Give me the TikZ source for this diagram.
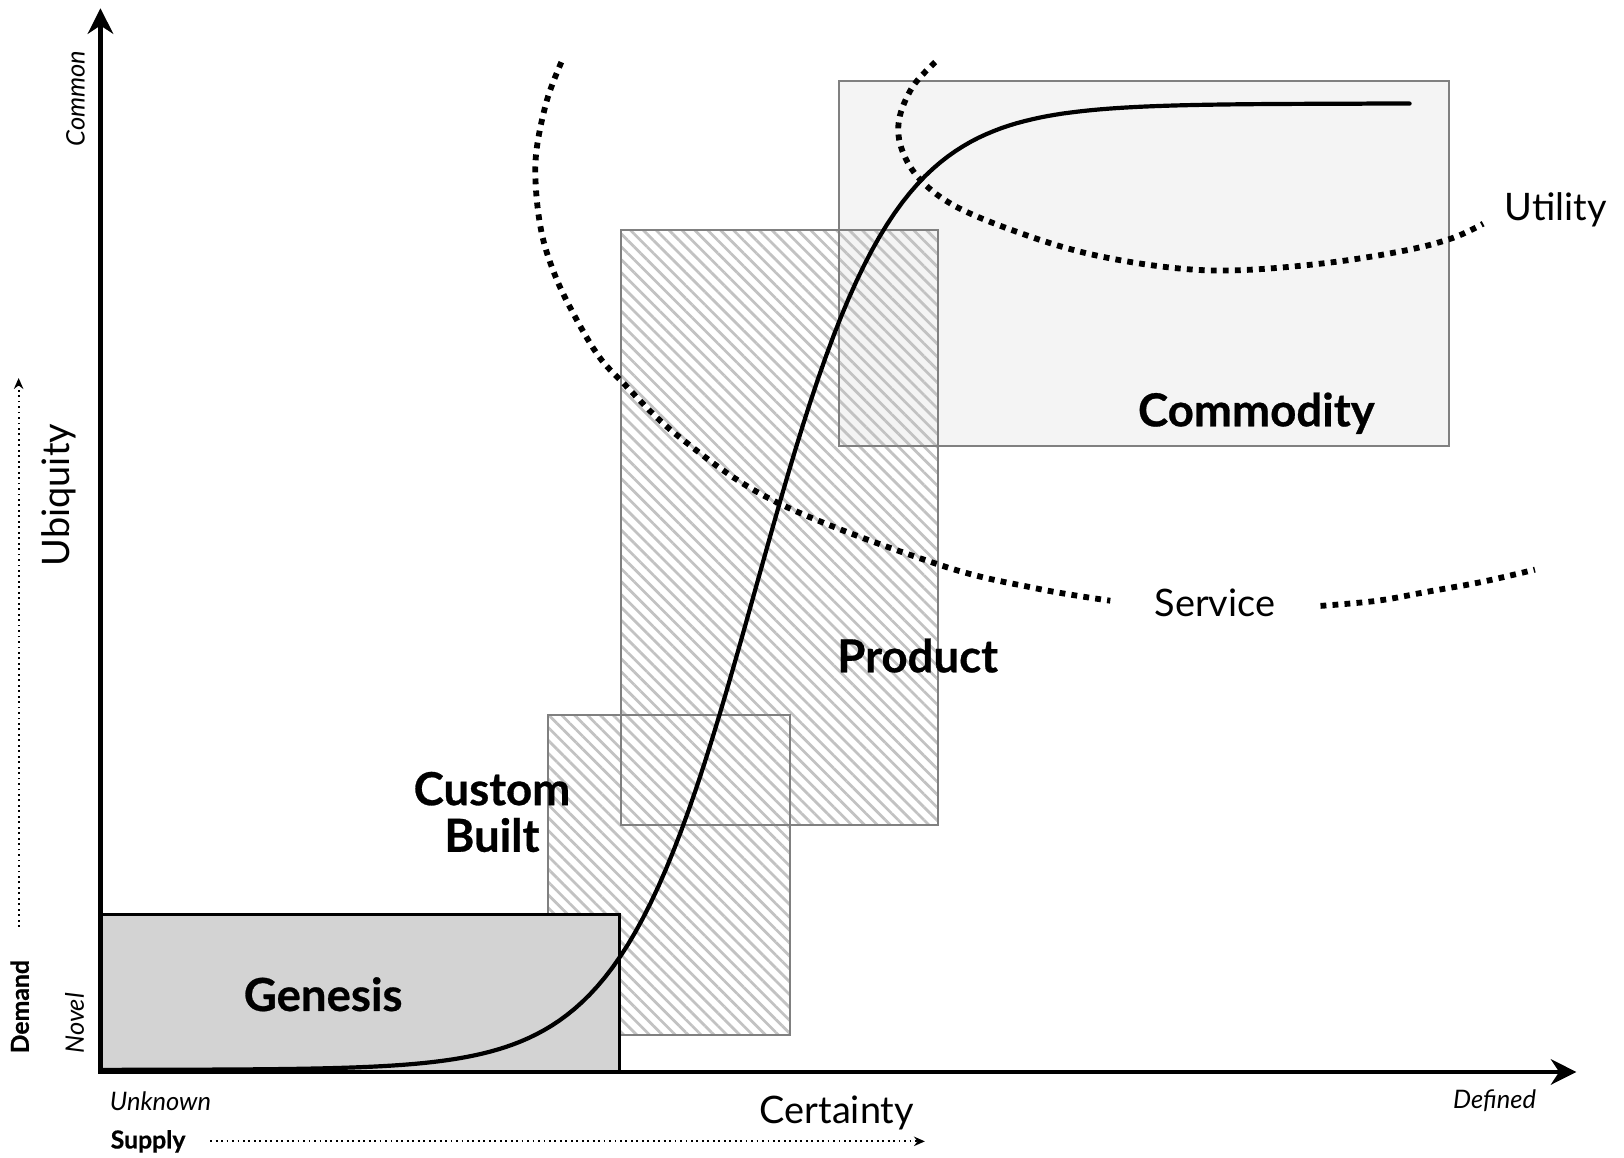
\documentclass[tikz,border=0pt]{standalone}
\usepackage{fontspec}
\setmainfont{Lato}
\newfontfamily\stagefont{Lato}[BoldFeatures={FakeBold=0.6}]
\usepackage[dvipsnames]{xcolor}
\definecolor{m_genesis}{HTML}{D3D3D3}
\definecolor{m_commodity}{HTML}{F4F4F4}
\definecolor{m_edge}{HTML}{808080}
\definecolor{m_hatch}{HTML}{C2C2C2}
\usepackage{tikz}
\usetikzlibrary{positioning,arrows.meta,patterns.meta}

\begin{document}
\begin{tikzpicture}[
        x=0.01cm, y=-0.01cm,
        stage/.style={font=\fontsize{12.5}{12.8}\selectfont\stagefont\bfseries, align=center},
        form/.style={font=\fontsize{10.4}{12}\selectfont},
        end label/.style={font=\fontsize{7}{8}\selectfont\itshape},
        side label/.style={font=\fontsize{6.8}{8}\selectfont\stagefont\bfseries},
        hatched/.style={pattern={Lines[angle=-45,distance=2.5pt,line width=0.75pt]}, pattern color=m_hatch},
        edge/.style={draw=m_edge, line width=0.55pt},
        boundary/.style={line width=1.6pt, dash pattern=on 1.6pt off 1.7pt},
        hint/.style={line width=0.5pt, densely dotted, -{Stealth[length=3pt,width=2.6pt]}},
        axis/.style={line width=1.15pt, {Stealth[length=7pt,width=7pt]}-{Stealth[length=7pt,width=7pt]}}
    ]
    \useasboundingbox (0,0) rectangle (1568,1118);

    % stages
    \fill[m_commodity] (810,78) rectangle (1399,431);
    \path[hatched] (600,222) rectangle (906,797) (529,690) rectangle (763,999);
    \draw[edge] (810,78) rectangle (1399,431);
    \draw[edge] (600,222) rectangle (906,797);
    \draw[edge] (529,690) rectangle (763,999);
    \draw[fill=m_genesis, line width=0.8pt] (97,883) rectangle (598,1035);

    % service and utility boundaries
    \draw[boundary] plot[smooth, tension=0.6] coordinates {(542,60) (528,97) (518,145) (517.5,183) (523,225) (534,261) (550,296) (576,341) (600,368) (656,422) (750,485) (906,545) (1000,568) (1072,580)};
    \draw[boundary] plot[smooth, tension=0.6] coordinates {(1275,585) (1330,580) (1380,571) (1430,562) (1482,550)};
    \draw[boundary] plot[smooth, tension=0.6] coordinates {(903,60) (881,84) (868,116) (871,145) (889,174) (924,200) (985,225) (1051,245) (1127,258) (1193,261) (1280,254) (1356,242) (1402,230) (1432,216)};

    % evolution curve
    \draw[line width=1.15pt, line cap=round] (97,1033) -- plot[domain=150:1320, samples=160] (\x, {1033 - 933/(1 + exp(-(\x-730)/65))}) -- (1361,100);

    % axes
    \coordinate (O) at (97,1035);
    \coordinate (Ytip) at (97,8);
    \coordinate (Xtip) at (1522,1035);
    \draw[axis] (Ytip) -- (O) -- (Xtip);

    \node[stage] (genesis) at (312,960) {Genesis};
    \node[stage] (custom) at (475,784) {Custom\\Built};
    \node[stage] (product) at (886,633) {Product};
    \node[stage] (commodity) at (1213,399) {Commodity};
    \node[form] (utility) at (1502,203) {Utility};
    \node[form] (service) at (1173,582) {Service};
    \node[form] (certainty) at (808,1075) {Certainty};
    \node[form, rotate=90] (ubiquity) at (57,478) {Ubiquity};
    \node[end label] (unknown) at (155,1063) {Unknown};
    \node[end label] (defined) at (1443,1063) {Defined};
    \node[end label, rotate=90] (common) at (73,95) {Common};
    \node[end label, rotate=90] (novel) at (72,988) {Novel};
    \node[side label, rotate=90] (demand) at (19,972) {Demand};
    \node[side label] (supply) at (143,1102) {Supply};

    \coordinate (supply start) at (203,1102);
    \coordinate (supply end) at (893,1102);
    \draw[hint] (supply start) -- (supply end);
    \coordinate (demand start) at (18,895);
    \coordinate (demand end) at (18,365);
    \draw[hint] (demand start) -- (demand end);
\end{tikzpicture}
\end{document}
